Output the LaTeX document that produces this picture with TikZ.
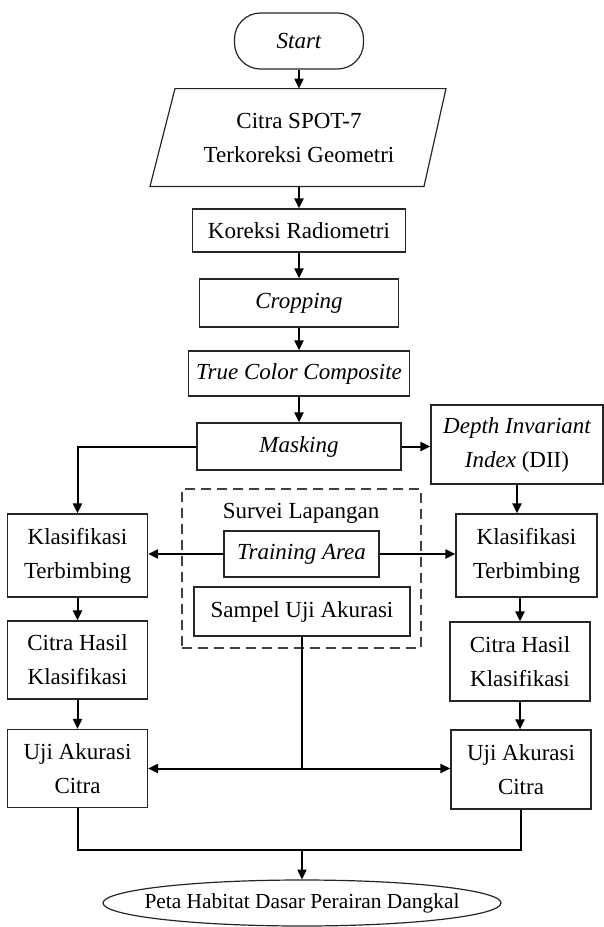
\documentclass[tikz,border=0pt]{standalone}
\usepackage{fontspec}
\setmainfont{Liberation Serif}
\usetikzlibrary{arrows.meta,shapes.geometric,calc}
\begin{document}
\begin{tikzpicture}[x=0.5pt,y=-0.5pt,
  font=\fontsize{11.5}{17}\selectfont,
  box/.style={draw=black!85, line width=0.6pt, inner sep=0pt, align=center, fill=white},
  conn/.style={line width=1pt, black},
  arr/.style={conn, -{Triangle[length=5pt,width=4.5pt]}},
  dashbox/.style={draw=black!75, line width=0.7pt, dash pattern=on 5pt off 3pt, inner sep=0pt}
]
\useasboundingbox (0,0) rectangle (604,927);

% main column
\node[box, rounded corners=13pt, minimum width=64.5pt, minimum height=28pt] (start) at (299,41) {\itshape Start};
\node[inner sep=0pt, minimum width=100pt, minimum height=48.5pt, align=center] (citra) at (299,137.5) {Citra SPOT-7\\Terkoreksi Geometri};
\draw[draw=black!85, line width=0.6pt] ($(citra.north)+(-124,0)$) -- ($(citra.north)+(147,0)$) -- ($(citra.south)+(125,0)$) -- ($(citra.south)+(-149,0)$) -- cycle;
\node[box, minimum width=106.5pt, minimum height=21.5pt] (koreksi) at (299,230.5) {Koreksi Radiometri};
\node[box, minimum width=99.5pt, minimum height=24pt] (crop) at (299,303) {\itshape Cropping};
\node[box, minimum width=110.5pt, minimum height=22.5pt] (tcc) at (299,373.5) {\itshape True Color Composite};
\node[box, minimum width=102pt, minimum height=23.5pt] (mask) at (299,446.5) {\itshape Masking};
\node[box, minimum width=86pt, minimum height=39.5pt] (dii) at (517,444.5) {\itshape Depth Invariant\\\itshape Index \upshape(DII)};

% dashed survey box
\node[dashbox, minimum width=119.5pt, minimum height=79.5pt] (field) at (301.5,568.5) {};
\node[inner sep=0pt] (survei) at (301,513) {Survei Lapangan};
\node[box, minimum width=77.5pt, minimum height=23pt] (train) at (301.5,554) {\itshape Training Area};
\node[box, minimum width=108pt, minimum height=24.5pt] (sampel) at (302,611.5) {Sampel Uji Akurasi};

% left column
\node[box, minimum width=70pt, minimum height=41.5pt] (lk) at (77.5,555.5) {Klasifikasi\\Terbimbing};
\node[box, minimum width=70pt, minimum height=39pt] (lc) at (77.5,660) {Citra Hasil\\Klasifikasi};
\node[box, minimum width=70pt, minimum height=39pt] (lu) at (77.5,768.5) {Uji Akurasi\\Citra};

% right column
\node[box, minimum width=70.5pt, minimum height=41.5pt] (rk) at (526.5,555.5) {Klasifikasi\\Terbimbing};
\node[box, minimum width=70pt, minimum height=39.5pt] (rc) at (520,661.5) {Citra Hasil\\Klasifikasi};
\node[box, minimum width=70pt, minimum height=39.5pt] (ru) at (521,769.5) {Uji Akurasi\\Citra};

% end
\node[inner sep=0pt, minimum width=199pt, minimum height=23pt, font=\fontsize{10.7}{13}\selectfont] (peta) at (302,903) {Peta Habitat Dasar Perairan Dangkal};
\draw[draw=black!85, line width=0.6pt] (peta.center) ellipse [x radius=199, y radius=23];

% connectors main column
\draw[arr] (start.south) -- (citra.north);
\draw[arr] (citra.south) -- (koreksi.north);
\draw[arr] (koreksi.south) -- (crop.north);
\draw[arr] (crop.south) -- (tcc.north);
\draw[arr] (tcc.south) -- (mask.north);
\draw[arr] (mask.east) -- (mask.east -| dii.west);
\draw[arr] (mask.west) -| (lk.north);
\draw[arr] (dii.south) -- (dii.south |- rk.north);

% columns
\draw[arr] (lk.south) -- (lc.north);
\draw[arr] (lc.south) -- (lu.north);
\draw[arr] (rk.south -| rc.north) -- (rc.north);
\draw[arr] (rc.south) -- (rc.south |- ru.north);

% training area
\draw[arr] (train.west) -- (train.west -| lk.east);
\draw[arr] (train.east) -- (train.east -| rk.west);

% sampel to accuracy tests
\coordinate (j) at (sampel.south |- lu.east);
\draw[conn] (sampel.south) -- (j);
\draw[arr] (j) -- (lu.east);
\draw[arr] (j) -- (j -| ru.west);

% merge to final
\coordinate (m) at (302,850);
\draw[conn] (lu.south) |- (m) -| (ru.south);
\draw[arr] (m) -- (peta.north);
\end{tikzpicture}
\end{document}
